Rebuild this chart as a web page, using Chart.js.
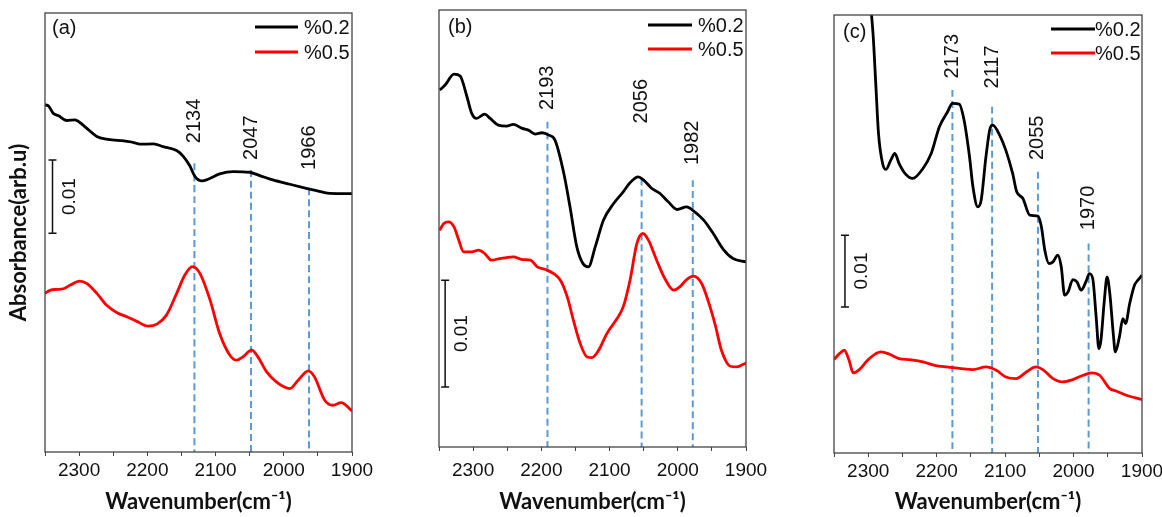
<!DOCTYPE html>
<html lang="en">
<head>
<meta charset="UTF-8">
<title>IR spectra</title>
<script src="https://cdn.jsdelivr.net/npm/chart.js@4.4.0/dist/chart.umd.min.js"></script>
<style>
  body { margin: 0; background: #fff; }
  .wrap { position: relative; width: 1162px; height: 517px; overflow: hidden; }
  .panel { position: absolute; top: 0; }
</style>
</head>
<body>
<div class="wrap">
  <canvas id="chartA" class="panel" style="left:0" width="390" height="517"></canvas>
  <canvas id="chartB" class="panel" style="left:390px" width="390" height="517"></canvas>
  <canvas id="chartC" class="panel" style="left:780px" width="382" height="517"></canvas>
</div>

<script>
// ---- data (wavenumber in cm-1, absorbance in arbitrary units) ----
const seriesNames = ['%0.2', '%0.5'];

// panel (a)
const wnA02 = [2350, 2345, 2338, 2330, 2318, 2306, 2299, 2289, 2274, 2260, 2240, 2220, 2211, 2191, 2177, 2157, 2147, 2138, 2130, 2120, 2111, 2094, 2074, 2050, 2035, 2016, 1991, 1967, 1952, 1933, 1900];
const absA02 = [104.0, 103.7, 101.5, 100.7, 99.3, 99.5, 98.7, 97.0, 94.5, 93.7, 93.3, 92.7, 92.2, 92.3, 91.5, 90.3, 88.5, 85.8, 82.5, 81.2, 81.7, 83.3, 84.0, 83.8, 82.8, 81.5, 80.2, 79.0, 78.3, 77.5, 77.4];
const wnA05 = [2350, 2342, 2333, 2323, 2313, 2299, 2289, 2274, 2260, 2245, 2230, 2216, 2199, 2186, 2172, 2157, 2145, 2134, 2123, 2108, 2094, 2079, 2069, 2060, 2047, 2038, 2025, 2011, 1991, 1979, 1964, 1955, 1940, 1928, 1916, 1900];
const absA05 = [47.5, 48.5, 48.7, 48.9, 50.0, 51.2, 50.5, 47.5, 44.0, 41.8, 40.5, 39.2, 37.7, 38.3, 41.0, 47.5, 53.0, 55.5, 53.5, 45.5, 35.5, 29.0, 27.5, 28.5, 30.5, 28.5, 24.0, 21.0, 19.0, 21.5, 24.3, 22.5, 15.5, 14.0, 14.8, 12.3];
const peaksA = [2131, 2048, 1963];
const peakTextA = ['2134', '2047', '1966'];
const peakTopA = [86.5, 84.5, 79.0];
const peakLabelA = [92.5, 87.5, 84.5];
const barA = [2339, 65.5, 87.5];

// panel (b)
const wnB02 = [2349, 2341, 2328, 2319, 2309, 2302, 2295, 2283, 2275, 2263, 2251, 2241, 2228, 2219, 2209, 2199, 2189, 2180, 2167, 2158, 2148, 2139, 2131, 2121, 2109, 2094, 2080, 2070, 2058, 2050, 2038, 2026, 2014, 2001, 1987, 1977, 1962, 1948, 1933, 1919, 1900];
const absB02 = [107.0, 108.5, 111.8, 111.2, 105.0, 100.0, 98.5, 99.8, 98.5, 96.5, 96.2, 96.7, 95.5, 95.0, 93.8, 94.2, 93.5, 92.0, 82.0, 72.0, 60.0, 55.0, 54.0, 60.0, 68.0, 73.0, 76.5, 79.2, 81.0, 80.0, 77.5, 76.0, 73.5, 71.2, 72.0, 70.8, 68.0, 64.0, 59.2, 56.5, 55.5];
const wnB05 = [2349, 2343, 2336, 2328, 2321, 2314, 2302, 2292, 2283, 2273, 2261, 2251, 2241, 2228, 2216, 2206, 2194, 2182, 2172, 2162, 2153, 2143, 2133, 2126, 2116, 2104, 2089, 2080, 2070, 2060, 2051, 2043, 2031, 2019, 2006, 1997, 1987, 1977, 1965, 1955, 1945, 1936, 1923, 1914, 1900];
const absB05 = [65.0, 67.0, 67.5, 66.0, 62.0, 58.5, 58.5, 59.0, 58.0, 56.0, 56.5, 56.8, 57.0, 56.2, 56.0, 54.0, 53.2, 52.0, 50.0, 45.0, 38.0, 31.0, 27.0, 26.8, 29.0, 34.0, 38.5, 42.0, 50.0, 61.0, 64.0, 62.0, 56.0, 50.5, 47.0, 48.0, 50.2, 51.2, 49.0, 43.5, 36.5, 29.0, 24.2, 24.0, 25.2];
const peaksB = [2191, 2053, 1978];
const peakTextB = ['2193', '2056', '1982'];
const peakTopB = [97.5, 80.5, 80.0];
const peakLabelB = [101.0, 97.0, 84.5];
const barB = [2341, 18.0, 50.0];

// panel (c)
const wnC02 = [2305, 2293, 2289, 2285, 2279, 2274, 2267, 2261, 2255, 2247, 2235, 2220, 2208, 2196, 2184, 2177, 2167, 2160, 2152, 2147, 2140, 2135, 2128, 2122, 2118, 2108, 2099, 2089, 2083, 2074, 2064, 2052, 2047, 2042, 2036, 2030, 2023, 2018, 2013, 2008, 2001, 1995, 1989, 1981, 1977, 1972, 1967, 1963, 1960, 1955, 1951, 1947, 1942, 1939, 1933, 1928, 1924, 1918, 1911, 1906, 1900];
const absC02 = [150.0, 125.8, 110.8, 95.8, 86.8, 85.0, 87.8, 89.8, 86.8, 84.0, 82.3, 85.3, 89.8, 97.8, 102.3, 104.8, 104.6, 99.8, 88.8, 79.8, 73.8, 75.8, 88.8, 97.3, 98.3, 95.3, 90.8, 83.8, 78.3, 76.3, 71.3, 71.0, 67.8, 60.8, 56.8, 57.3, 59.3, 55.8, 47.3, 48.3, 52.0, 51.3, 48.8, 51.8, 53.8, 52.3, 40.8, 31.3, 33.8, 45.8, 52.8, 47.8, 35.8, 30.3, 34.8, 40.3, 38.8, 44.8, 50.3, 51.8, 53.3];
const wnC05 = [2350, 2342, 2335, 2328, 2322, 2313, 2301, 2291, 2281, 2269, 2255, 2240, 2220, 2203, 2186, 2167, 2147, 2128, 2113, 2099, 2084, 2069, 2055, 2045, 2030, 2016, 2001, 1986, 1974, 1962, 1947, 1938, 1923, 1911, 1900];
const absC05 = [28.0, 29.8, 30.8, 27.8, 24.0, 25.0, 27.8, 29.5, 30.3, 29.6, 28.3, 28.0, 27.3, 26.3, 25.8, 25.4, 25.0, 25.8, 24.8, 22.8, 22.3, 24.3, 25.8, 25.0, 22.3, 21.3, 22.0, 23.3, 24.0, 23.3, 19.3, 18.6, 17.3, 16.6, 16.0];
const peaksC = [2177, 2119, 2052, 1978];
const peakTextC = ['2173', '2117', '2055', '1970'];
const peakTopC = [108.8, 103.8, 84.3, 62.8];
const peakLabelC = [112.3, 109.3, 87.8, 66.8];
const barC = [2334, 43.8, 65.3];

const xMin = 1900, xMax = 2350;

const numFont = "'Liberation Sans', Arial, sans-serif";
const titleFont = "Lato, 'Open Sans', sans-serif";

function toPts(xs, ys) {
  return xs.map((x, i) => ({ x: x, y: ys[i] }));
}

// frame, legend, labels, scale bar
const extras = {
  id: 'extras',
  afterDatasetsDraw(chart, args, o) {
    const ctx = chart.ctx;
    const a = chart.chartArea;
    const xs = chart.scales.x, ys = chart.scales.y;
    ctx.save();

    // box
    ctx.strokeStyle = '#444';
    ctx.lineWidth = 1.3;
    ctx.strokeRect(a.left, a.top, a.right - a.left, a.bottom - a.top);

    // panel letter
    ctx.fillStyle = '#111';
    ctx.font = '20px ' + numFont;
    ctx.textAlign = 'left';
    ctx.textBaseline = 'middle';
    ctx.fillText(o.letter, a.left + o.letterDx, a.top + o.letterDy);

    // legend
    chart.data.datasets.slice(0, 2).forEach((ds, i) => {
      const y = a.top + o.legY[i];
      ctx.strokeStyle = ds.borderColor;
      ctx.lineWidth = 3;
      ctx.beginPath();
      ctx.moveTo(a.right - o.legLine[0], y);
      ctx.lineTo(a.right - o.legLine[1], y);
      ctx.stroke();
      ctx.fillStyle = '#111';
      ctx.fillText(ds.label, a.right - o.legText, y + 1);
    });

    // peak labels
    ctx.font = '20px ' + numFont;
    o.peaks.forEach((p, i) => {
      ctx.save();
      ctx.translate(xs.getPixelForValue(p), ys.getPixelForValue(o.labelAt[i]));
      ctx.rotate(-Math.PI / 2);
      ctx.textAlign = 'left';
      ctx.textBaseline = 'middle';
      ctx.fillText(o.texts[i], 0, 0);
      ctx.restore();
    });

    // 0.01 scale bar
    const bx = xs.getPixelForValue(o.bar[0]);
    const b0 = ys.getPixelForValue(o.bar[1]);
    const b1 = ys.getPixelForValue(o.bar[2]);
    ctx.strokeStyle = '#111';
    ctx.lineWidth = 1.5;
    ctx.beginPath();
    ctx.moveTo(bx, b0); ctx.lineTo(bx, b1);
    ctx.moveTo(bx - 4, b0); ctx.lineTo(bx + 4, b0);
    ctx.moveTo(bx - 4, b1); ctx.lineTo(bx + 4, b1);
    ctx.stroke();
    ctx.save();
    ctx.translate(bx + 17, (b0 + b1) / 2);
    ctx.rotate(-Math.PI / 2);
    ctx.textAlign = 'center';
    ctx.textBaseline = 'middle';
    ctx.font = '19px ' + numFont;
    ctx.fillText('0.01', 0, 0);
    ctx.restore();

    ctx.restore();
  }
};

function makePanel(id, p) {
  const datasets = [
    { label: seriesNames[0], data: toPts(p.wn02, p.abs02), borderColor: '#000000', borderWidth: 2.8, order: 0 },
    { label: seriesNames[1], data: toPts(p.wn05, p.abs05), borderColor: '#ff0000', borderWidth: 2.8, order: 0 }
  ];
  p.peaks.forEach((pk, i) => {
    datasets.push({
      label: 'peak ' + p.texts[i],
      data: [{ x: pk, y: p.tops[i] }, { x: pk, y: 0 }],
      borderColor: '#5b9bd5', borderWidth: 2, borderDash: [7, 4], order: 1
    });
  });

  return new Chart(document.getElementById(id), {
    type: 'line',
    data: { datasets: datasets },
    options: {
      responsive: false,
      animation: false,
      cubicInterpolationMode: 'monotone',
      elements: { point: { radius: 0 }, line: { fill: false } },
      layout: { padding: { top: p.top, right: p.right, left: 0, bottom: 0 } },
      plugins: {
        legend: { display: false },
        tooltip: { enabled: false },
        extras: {
          letter: p.letter, letterDx: p.letterDx, letterDy: p.letterDy,
          legY: p.legY, legLine: p.legLine, legText: p.legText,
          peaks: p.peaks, texts: p.texts, labelAt: p.labelAt, bar: p.bar
        }
      },
      scales: {
        x: {
          type: 'linear', min: xMin, max: xMax, reverse: true,
          afterFit: s => { s.height = p.xh; s.paddingLeft = 0; s.paddingRight = 0; },
          grid: { drawOnChartArea: false, drawTicks: true, tickLength: 4, color: '#444' },
          border: { display: false },
          ticks: {
            stepSize: 50, autoSkip: false, maxRotation: 0, padding: p.tickPad,
            color: '#111', font: { family: numFont, size: 19 },
            callback: v => (v % 100 === 0 ? String(v) : '')
          },
          title: {
            display: true, text: 'Wavenumber(cm\u207B\u00B9)', color: '#111',
            font: { family: titleFont, size: 22, weight: 'bold' },
            padding: { top: 0, bottom: 2 }
          }
        },
        y: {
          min: 0, max: p.ymax,
          afterFit: s => { s.width = p.yw; },
          grid: { display: false },
          border: { display: false },
          ticks: { display: false },
          title: {
            display: p.ytitle, text: 'Absorbance(arb.u)', color: '#111',
            font: { family: titleFont, size: 22, weight: 'bold' },
            padding: { top: 6, bottom: 0 }
          }
        }
      }
    },
    plugins: [extras]
  });
}

makePanel('chartA', {
  wn02: wnA02, abs02: absA02, wn05: wnA05, abs05: absA05,
  peaks: peaksA, texts: peakTextA, tops: peakTopA, labelAt: peakLabelA, bar: barA,
  ymax: 131.5, top: 13, right: 38, yw: 45, xh: 65, tickPad: 3, ytitle: true,
  letter: '(a)', letterDx: 7, letterDy: 15,
  legY: [14, 39], legLine: [97, 54], legText: 48
});
makePanel('chartB', {
  wn02: wnB02, abs02: absB02, wn05: wnB05, abs05: absB05,
  peaks: peaksB, texts: peakTextB, tops: peakTopB, labelAt: peakLabelB, bar: barB,
  ymax: 131, top: 10, right: 34, yw: 49, xh: 70, tickPad: 8, ytitle: false,
  letter: '(b)', letterDx: 9, letterDy: 17,
  legY: [15, 39], legLine: [98, 54], legText: 48
});
makePanel('chartC', {
  wn02: wnC02, abs02: absC02, wn05: wnC05, abs05: absC05,
  peaks: peaksC, texts: peakTextC, tops: peakTopC, labelAt: peakLabelC, bar: barC,
  ymax: 131.3, top: 15, right: 20, yw: 54, xh: 64, tickPad: 3, ytitle: false,
  letter: '(c)', letterDx: 9, letterDy: 17,
  legY: [14, 38], legLine: [91, 47], legText: 47
});
</script>
</body>
</html>
